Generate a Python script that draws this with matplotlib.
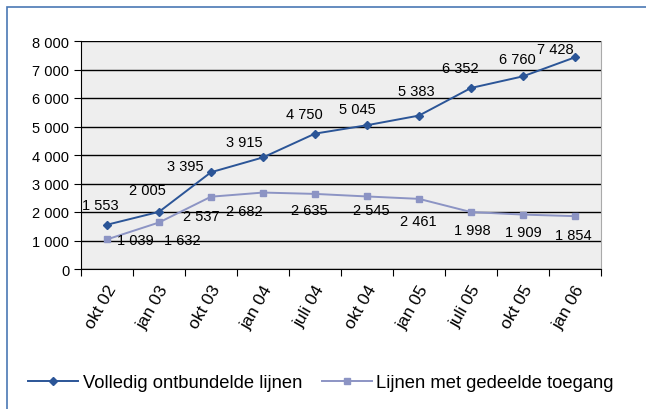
import matplotlib
matplotlib.use("Agg")
import matplotlib.pyplot as plt
from matplotlib.patches import Rectangle
from matplotlib.transforms import ScaledTranslation

categories = ["okt 02", "jan 03", "okt 03", "jan 04", "juli 04", "okt 04",
              "jan 05", "juli 05", "okt 05", "jan 06"]
volledig = [1553, 2005, 3395, 3915, 4750, 5045, 5383, 6352, 6760, 7428]
gedeeld = [1039, 1632, 2537, 2682, 2635, 2545, 2461, 1998, 1909, 1854]
yticks = [0, 1000, 2000, 3000, 4000, 5000, 6000, 7000, 8000]

# label offsets in pixels (dx, dy down), placed by hand like in the original
off1 = [(-7, -20), (-12, -22), (-26, -6), (-19, -15), (-11, -20), (-10, -16), (-3, -25), (-11, -20), (-6, -17), (-20, -8)]
off2 = [(28, 1), (23, 18), (-10, 19), (-19, 18), (-6, 16), (4, 14), (-1, 22), (1, 18), (0, 17), (-2, 19)]

plt.rcParams["font.family"] = ["Liberation Sans", "DejaVu Sans"]

fig = plt.figure(figsize=(6.46, 4.10), dpi=100)
ax = fig.add_axes([81 / 646, 1 - 270 / 410, 520 / 646, 228 / 410])

c1 = "#2B5597"
c2 = "#8C94C4"
x = list(range(len(categories)))
ax.plot(x, volledig, color=c1, marker="D", markersize=4.5, lw=1.4, label="Volledig ontbundelde lijnen")
ax.plot(x, gedeeld, color=c2, marker="s", markersize=5, lw=1.4, label="Lijnen met gedeelde toegang")

def fmt(v):
    return f"{v:,}".replace(",", " ")

for i, v in enumerate(volledig):
    ax.annotate(fmt(v), (i, v), xytext=(off1[i][0] * 0.72, -off1[i][1] * 0.72), textcoords="offset points",
                ha="center", va="center", fontsize=10.5)
for i, v in enumerate(gedeeld):
    ax.annotate(fmt(v), (i, v), xytext=(off2[i][0] * 0.72, -off2[i][1] * 0.72), textcoords="offset points",
                ha="center", va="center", fontsize=10.5)

ax.set_xlim(-0.5, len(categories) - 0.5)
ax.set_ylim(0, 8000)
ax.set_yticks(yticks)
ax.set_yticklabels([fmt(t) for t in yticks], fontsize=10.5)
ax.set_xticks([i - 0.5 for i in range(len(categories) + 1)], minor=False)
ax.set_xticklabels([""] * (len(categories) + 1))
ax.set_xticks(x, minor=True)
ax.set_xticklabels(categories, minor=True, rotation=60, ha="right", va="center", fontsize=12.5,
                   rotation_mode="anchor")
ax.tick_params(axis="x", which="minor", length=0, pad=12)
ax.tick_params(axis="x", which="major", length=5, color="black")
ax.tick_params(axis="y", length=5, color="black")
shift = ScaledTranslation(6 / 100, 0, fig.dpi_scale_trans)
for lbl in ax.get_xticklabels(minor=True):
    lbl.set_transform(lbl.get_transform() + shift)
ax.set_facecolor("#EEEEEE")
ax.grid(axis="y", color="black", lw=1)
ax.set_axisbelow(True)
ax.spines["top"].set_visible(False)
ax.spines["right"].set_color("#AAAAAA")
ax.spines["left"].set_color("black")
ax.spines["bottom"].set_color("black")

fig.legend(loc="center left", bbox_to_anchor=(12 / 646, 26 / 410), ncol=2, frameon=False,
           fontsize=13.2, handlelength=2.7, columnspacing=1.1, handletextpad=0.25)

fig.add_artist(Rectangle((7 / 646, -0.1), 1.2, 1.1 - 8 / 410, transform=fig.transFigure,
                         fill=False, edgecolor="#4A78B4", lw=1.2))

fig.savefig("out.png", dpi=100)
